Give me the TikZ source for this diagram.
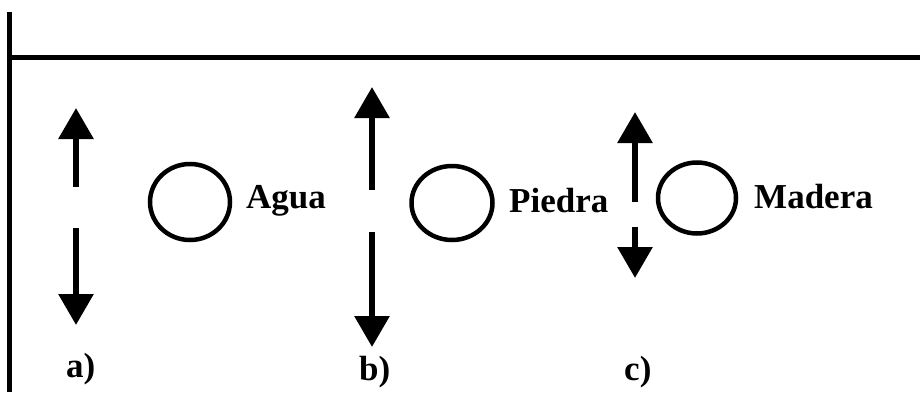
\documentclass[tikz,border=0pt]{standalone}
\usepackage{fontspec}
\setmainfont{Liberation Serif}
\usetikzlibrary{arrows.meta,shapes.geometric}
\begin{document}
\begin{tikzpicture}[x=1pt,y=1pt,
  frameline/.style={line width=5.5pt},
  forcearrow/.style={line width=6pt,-{Triangle[length=31pt,width=34pt]}},
  body/.style={draw,ellipse,line width=4.5pt,inner sep=0pt},
  lbl/.style={font=\fontsize{35}{38}\selectfont\bfseries,inner sep=0pt,anchor=base west}]
\useasboundingbox (0,0) rectangle (920,392);
% frame
\coordinate (vtop) at (9.5,380);
\coordinate (vbot) at (9.5,0);
\coordinate (hl) at (9.5,334.5);
\coordinate (hr) at (920,334.5);
\draw[frameline] (vtop) -- (vbot);
\draw[frameline] (hl) -- (hr);
% bodies
\node[body,minimum width=80pt,minimum height=76pt] (ca) at (190,190) {};
\node[body,minimum width=81pt,minimum height=74pt] (cb) at (452,189) {};
\node[body,minimum width=78pt,minimum height=71pt] (cc) at (697,194) {};
% names
\node[lbl] (ta) at (246,184) {Agua};
\node[lbl] (tb) at (509,180) {Piedra};
\node[lbl] (tc) at (754,184) {Madera};
% arrows a
\coordinate (a1) at (76,205); \coordinate (a2) at (76,284);
\coordinate (a3) at (76,164); \coordinate (a4) at (76,67);
\draw[forcearrow] (a1) -- (a2);
\draw[forcearrow] (a3) -- (a4);
% arrows b
\coordinate (b1) at (372,202); \coordinate (b2) at (372,305);
\coordinate (b3) at (372,160); \coordinate (b4) at (372,45);
\draw[forcearrow] (b1) -- (b2);
\draw[forcearrow] (b3) -- (b4);
% arrows c
\coordinate (c1) at (635,190); \coordinate (c2) at (635,280);
\coordinate (c3) at (635,165); \coordinate (c4) at (635,114);
\draw[forcearrow] (c1) -- (c2);
\draw[forcearrow] (c3) -- (c4);
% case labels
\node[lbl] (la) at (66,15) {a)};
\node[lbl] (lb) at (359,12) {b)};
\node[lbl] (lc) at (624,12) {c)};
\end{tikzpicture}
\end{document}
